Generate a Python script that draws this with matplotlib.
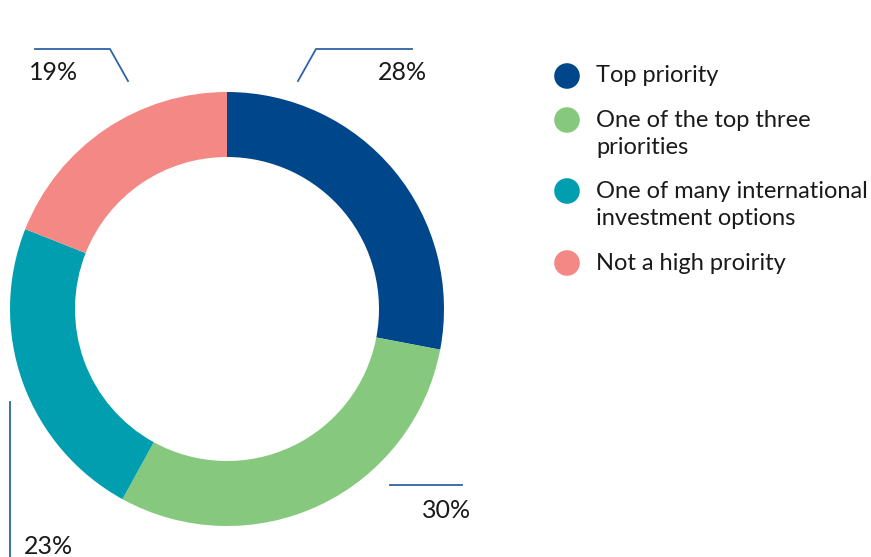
import matplotlib
matplotlib.use("Agg")
import matplotlib.pyplot as plt

categories = ["Top priority", "One of the top three\npriorities",
              "One of many international\ninvestment options", "Not a high proirity"]
values = [28, 30, 23, 19]
labels = ["28%", "30%", "23%", "19%"]
colors = ["#00468B", "#86C97E", "#009EAF", "#F48884"]
line_color = "#2F62A6"
text_color = "#1A1A1A"

plt.rcParams["font.family"] = ["Lato", "DejaVu Sans"]

W, H = 871, 557
fig = plt.figure(figsize=(W / 100, H / 100), dpi=100)
ax = fig.add_axes([0, 0, 1, 1])

cx, cy, r_out, ring = 227, H - 309, 217, 65
ax.pie(values, colors=colors, startangle=90, counterclock=False,
       center=(cx, cy), radius=r_out, frame=True,
       wedgeprops=dict(width=ring, linewidth=0))
ax.set_xlim(0, W)
ax.set_ylim(0, H)
ax.set_aspect("equal")
ax.axis("off")

def y(v):
    return H - v

lw = 1.3
pct_size = 18
# 28%
ax.plot([298, 316, 412], [y(81), y(49), y(49)], color=line_color, lw=lw)
ax.text(402, y(73), labels[0], ha="center", va="center", fontsize=pct_size, color=text_color)
# 19%
ax.plot([128, 110, 35], [y(81), y(49), y(49)], color=line_color, lw=lw)
ax.text(54, y(73), labels[3], ha="center", va="center", fontsize=pct_size, color=text_color)
# 30%
ax.plot([390, 462], [y(485), y(485)], color=line_color, lw=lw)
ax.text(447, y(511), labels[1], ha="center", va="center", fontsize=pct_size, color=text_color)
# 23%
ax.plot([10, 10], [y(402), y(557)], color=line_color, lw=lw)
ax.text(48, y(546), labels[2], ha="center", va="center", fontsize=pct_size, color=text_color)

# legend
legend_y = [76, 120, 191, 263]
text_y = [76, 134, 205, 263]
for cat, col, my, ty in zip(categories, colors, legend_y, text_y):
    ax.scatter([567], [y(my)], s=340, color=col, edgecolors="none")
    ax.text(596, y(ty), cat, ha="left", va="center", fontsize=17,
            color=text_color, linespacing=1.3)

fig.savefig("out.png", dpi=100)
